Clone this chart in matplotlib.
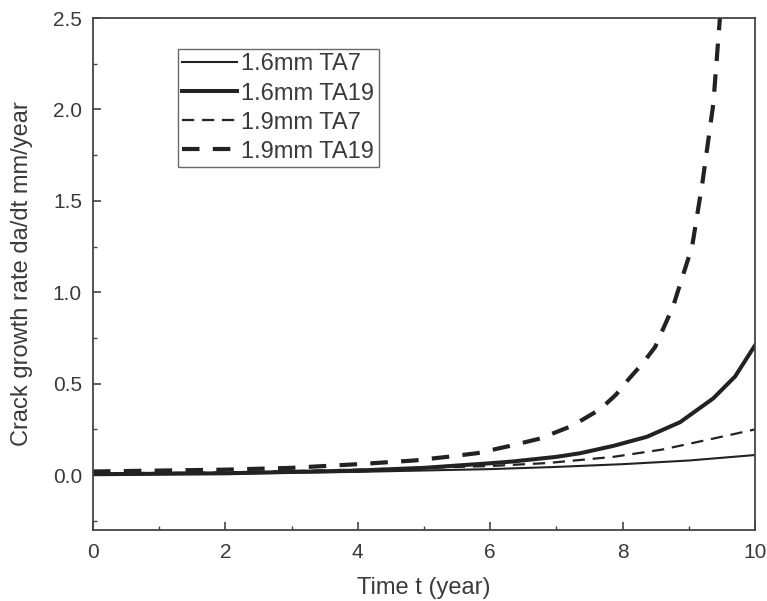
import matplotlib.pyplot as plt
from matplotlib.ticker import MultipleLocator

# values
t_16_ta7 = [0, 2, 4, 6, 7, 8, 9, 10]
v_16_ta7 = [0.003, 0.008, 0.018, 0.033, 0.045, 0.06, 0.08, 0.11]

t_16_ta19 = [0, 2, 4, 5, 6, 6.35, 7, 7.36, 7.86, 8.37, 8.87, 9.37, 9.7, 10]
v_16_ta19 = [0.005, 0.01, 0.025, 0.04, 0.065, 0.075, 0.10, 0.12, 0.16, 0.21, 0.29, 0.42, 0.54, 0.71]

t_19_ta7 = [0, 2, 4, 5, 6, 6.86, 7.86, 8.6, 9.37, 10]
v_19_ta7 = [0.01, 0.015, 0.03, 0.04, 0.05, 0.066, 0.10, 0.14, 0.20, 0.25]

t_19_ta19 = [0, 1, 2, 3, 4, 4.85, 5.35, 5.8, 6.3, 6.75, 7.24, 7.66, 7.9, 8.08, 8.3, 8.49,
             8.76, 9.05, 9.21, 9.37, 9.47]
v_19_ta19 = [0.02, 0.025, 0.03, 0.04, 0.06, 0.08, 0.10, 0.12, 0.16, 0.20, 0.27, 0.36, 0.44, 0.52, 0.61, 0.70,
             0.92, 1.25, 1.61, 2.03, 2.5]

labels = ["1.6mm TA7", "1.6mm TA19", "1.9mm TA7", "1.9mm TA19"]

plt.rcParams["font.family"] = ["Liberation Sans", "DejaVu Sans"]

fig = plt.figure(figsize=(7.67, 6.01), dpi=100)
ax = fig.add_axes([93 / 767, 1 - 530 / 601, 662 / 767, 512 / 601])

ink = "#222222"
text_c = "#3a3a3a"
ax.plot(t_16_ta7, v_16_ta7, color=ink, lw=1.5, label=labels[0])
ax.plot(t_16_ta19, v_16_ta19, color=ink, lw=2.9, label=labels[1])
ax.plot(t_19_ta7, v_19_ta7, color=ink, lw=1.6, dashes=(5.5, 3.5), label=labels[2])
ax.plot(t_19_ta19, v_19_ta19, color=ink, lw=3.0, dashes=(4.2, 3.2), label=labels[3])

ax.set_xlim(0, 10)
ax.set_ylim(-0.3, 2.5)
ax.xaxis.set_major_locator(MultipleLocator(2))
ax.xaxis.set_minor_locator(MultipleLocator(1))
ax.yaxis.set_major_locator(MultipleLocator(0.5))
ax.yaxis.set_minor_locator(MultipleLocator(0.25))
ax.tick_params(which="both", direction="in", colors="#444444", labelcolor=text_c,
               labelsize=15, top=False, right=False)
ax.tick_params(which="major", length=6, width=1.2)
ax.tick_params(axis="x", which="major", pad=9)
ax.tick_params(axis="y", which="major", pad=8)
ax.tick_params(which="minor", length=3, width=1.0)
for s in ax.spines.values():
    s.set_color("#444444")
    s.set_linewidth(1.3)

ax.set_xlabel("Time t (year)", fontsize=17, color=text_c, labelpad=11)
ax.set_ylabel("Crack growth rate da/dt mm/year", fontsize=17, color=text_c)
ax.yaxis.set_label_coords(-0.091, 0.5)

leg = ax.legend(loc="upper left", bbox_to_anchor=(0.128, 0.94), fontsize=17,
                frameon=True, fancybox=False, handlelength=2.3, handletextpad=0.2,
                borderpad=0.2, labelspacing=0.3, borderaxespad=0)
leg.get_frame().set_edgecolor("#444444")
leg.get_frame().set_linewidth(1.0)
for txt in leg.get_texts():
    txt.set_color(text_c)

fig.savefig("out.png", dpi=100)
